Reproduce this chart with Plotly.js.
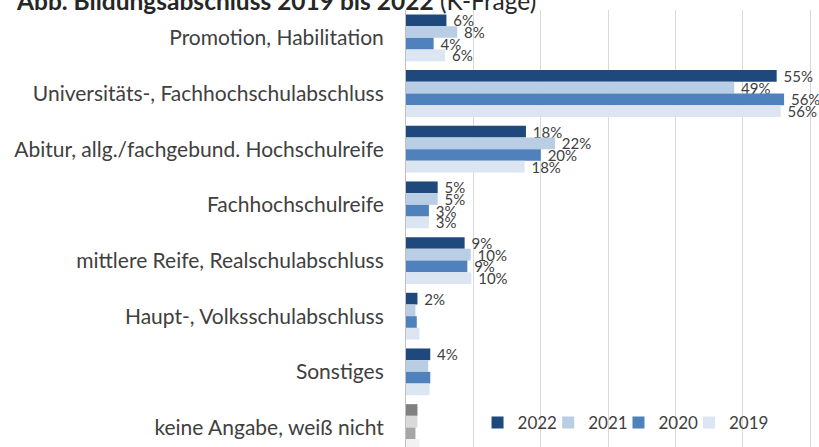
<!DOCTYPE html>
<html><head><meta charset="utf-8">
<script src="https://cdn.plot.ly/plotly-3.0.1.min.js"></script>
<style>html,body{margin:0;padding:0;background:#fff}#chart{width:819px;height:447px}</style>
</head><body><div id="chart"></div>
<script>
const categories = ["Promotion, Habilitation","Universitäts-, Fachhochschulabschluss","Abitur, allg./fachgebund. Hochschulreife","Fachhochschulreife","mittlere Reife, Realschulabschluss","Haupt-, Volksschulabschluss","Sonstiges","keine Angabe, weiß nicht"];
const years = ["2022","2021","2020","2019"];
const v2022 = [6.0, 55.0, 17.8, 4.7, 8.7, 1.7, 3.6, 1.7];
const v2021 = [7.6, 48.7, 22.1, 4.7, 9.6, 1.4, 3.3, 1.7];
const v2020 = [4.1, 56.1, 20.0, 3.4, 9.1, 1.6, 3.6, 1.4];
const v2019 = [5.8, 55.6, 17.6, 3.4, 9.7, 2.0, 3.5, 2.0];
const lab2022 = ["6%","55%","18%","5%","9%","2%","4%",""];
const lab2021 = ["8%","49%","22%","5%","10%","","",""];
const lab2020 = ["4%","56%","20%","3%","9%","","",""];
const lab2019 = ["6%","56%","18%","3%","10%","","",""];

const values = [v2022, v2021, v2020, v2019];
const labels = [lab2022, lab2021, lab2020, lab2019];
const colors = ["#1F497D","#B9CDE5","#4F81BD","#DCE6F2"];
const grays = ["#808080","#D9D9D9","#A6A6A6","#F2F2F2"];

const font = "Lato, 'Open Sans', sans-serif";
const legendIds = ["legend","legend2","legend3","legend4"];
const legendX = [0.1732, 0.3443, 0.5145, 0.6852];

const traces = years.map((yr, i) => ({
  type: "bar", orientation: "h", name: yr,
  x: values[i], y: categories,
  legend: legendIds[i],
  marker: {color: categories.map((c, j) => j === categories.length - 1 ? grays[i] : colors[i])},
  text: labels[i].map(t => t ? " " + t : ""),
  textposition: "outside", constraintext: "none", cliponaxis: false,
  textfont: {family: font, size: 15, color: "#404040"},
  hoverinfo: "skip"
}));

const legendFont = {family: font, size: 17, color: "#404040"};
const layout = {
  width: 819, height: 447,
  margin: {l: 406, r: 0, t: 10, b: 0, pad: 0, autoexpand: false},
  barmode: "group", bargap: 0.16, bargroupgap: 0,
  paper_bgcolor: "#fff", plot_bgcolor: "#fff",
  font: {family: font, color: "#404040"},
  xaxis: {range: [0, 61.28], dtick: 10, showticklabels: false, showgrid: true,
          gridcolor: "#D9D9D9", gridwidth: 1, zeroline: false, showline: false, fixedrange: true},
  yaxis: {range: [7.35, -0.5], showgrid: false, showline: true, linecolor: "#BFBFBF", linewidth: 1,
          ticks: "", ticklabelstandoff: 17, tickfont: {family: font, size: 21, color: "#404040"}, fixedrange: true},
  showlegend: true,
  annotations: [{
    xref: "paper", yref: "paper", x: -0.95, y: 1, xanchor: "left", yanchor: "bottom", yshift: -7,
    showarrow: false, align: "left",
    text: "<b>Abb. Bildungsabschluss 2019 bis 2022</b> (K-Frage)",
    font: {family: font, size: 24.5, color: "#262626"}
  }]
};
legendIds.forEach((id, i) => {
  layout[id] = {orientation: "h", x: legendX[i], xanchor: "left", y: 0.055, yanchor: "middle",
                font: legendFont, bgcolor: "rgba(0,0,0,0)", traceorder: "normal"};
});
Plotly.newPlot("chart", traces, layout, {displayModeBar: false, staticPlot: true});
</script></body></html>
